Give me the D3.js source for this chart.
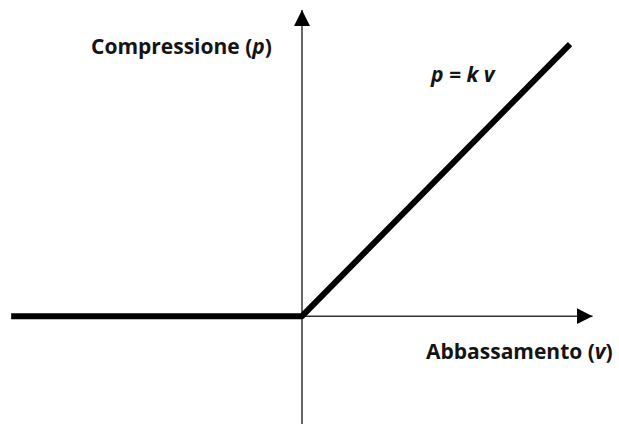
<!DOCTYPE html>
<html lang="it">
<head>
    <meta charset="utf-8">
    <title>Compressione / Abbassamento</title>
    <script src="https://d3js.org/d3.v7.min.js"></script>
    <style>
        body { margin: 0; background: #fff; }
        text { font-family: "Open Sans", Lato, sans-serif; fill: #141414; }
    </style>
</head>
<body onload="main()">
    <svg width="619" height="424" id="svg1"></svg>
    <script>
        // spring-like response: no pressure for negative settlement, p = k v otherwise
        var settlement = [-9.96, 0, 9.18];
        var pressure = [0, 0, 9.33];

        // axis extents (data units)
        var xAxisExt = [0, 9.95];
        var yAxisExt = [-3.7, 10.5];

        var xLabel = "Abbassamento (", xVar = "v";
        var yLabel = "Compressione (", yVar = "p";
        var lawLabel = "p = k v";

        function main() {
            var svg = d3.select("#svg1");

            var xScale = d3.scaleLinear().domain([-10, 10]).range([10, 594]),
                yScale = d3.scaleLinear().domain([-3.7, 10.5]).range([424, 10]);

            var defs = svg.append("defs");
            defs.append("marker")
                .attr("id", "arrow")
                .attr("viewBox", "0 0 16 16")
                .attr("refX", 16)
                .attr("refY", 8)
                .attr("markerWidth", 16)
                .attr("markerHeight", 16)
                .attr("markerUnits", "userSpaceOnUse")
                .attr("orient", "auto")
                .append("path")
                .attr("d", "M0,0 L16,8 L0,16 Z")
                .attr("fill", "#000");

            // horizontal axis
            svg.append("line")
                .attr("x1", xScale(xAxisExt[0]))
                .attr("y1", yScale(0))
                .attr("x2", xScale(xAxisExt[1]))
                .attr("y2", yScale(0))
                .attr("stroke", "#333")
                .attr("stroke-width", 1.5)
                .attr("marker-end", "url(#arrow)");

            // vertical axis
            svg.append("line")
                .attr("x1", xScale(0))
                .attr("y1", yScale(yAxisExt[0]))
                .attr("x2", xScale(0))
                .attr("y2", yScale(yAxisExt[1]))
                .attr("stroke", "#333")
                .attr("stroke-width", 1.5)
                .attr("marker-end", "url(#arrow)");

            var pts = settlement.map(function (v, i) { return [v, pressure[i]]; });
            svg.append("path")
                .datum(pts)
                .attr("fill", "none")
                .attr("stroke", "#000")
                .attr("stroke-width", 6)
                .attr("stroke-linejoin", "round")
                .attr("d", d3.line()
                    .x(function (d) { return xScale(d[0]); })
                    .y(function (d) { return yScale(d[1]); })
                );

            var t1 = svg.append("text")
                .attr("x", 91)
                .attr("y", 54)
                .attr("font-size", "21px")
                .attr("font-weight", "bold");
            t1.append("tspan").text(yLabel);
            t1.append("tspan").attr("font-style", "italic").text(yVar);
            t1.append("tspan").text(")");

            var t2 = svg.append("text")
                .attr("x", 426)
                .attr("y", 359)
                .attr("font-size", "21px")
                .attr("font-weight", "bold");
            t2.append("tspan").text(xLabel);
            t2.append("tspan").attr("font-style", "italic").text(xVar);
            t2.append("tspan").text(")");

            svg.append("text")
                .attr("x", 431)
                .attr("y", 82)
                .attr("font-size", "21px")
                .attr("font-weight", "bold")
                .attr("font-style", "italic")
                .attr("xml:space", "preserve")
                .text(lawLabel);
        }
    </script>
</body>
</html>
